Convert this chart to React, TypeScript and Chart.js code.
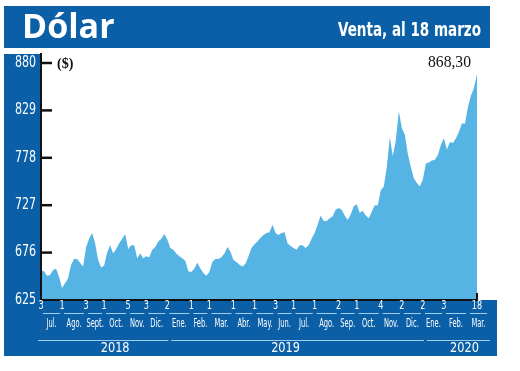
import React, { useEffect, useRef } from "react";
import { Chart, registerables } from "chart.js";

Chart.register(...registerables);

// Dólar observado, venta (daily series resampled by eye), 3 Jul 2018 – 18 Mar 2020
const values: number[] = [
  657, 656, 651, 652, 657, 659, 650, 638, 643, 648,
  663, 669, 669, 665, 661, 682, 691, 697, 686, 668,
  660, 662, 676, 684, 675, 680, 686, 691, 696, 680,
  684, 684, 670, 675, 670, 672, 671, 679, 682, 688,
  691, 696, 690, 681, 679, 675, 672, 670, 667, 656,
  655, 659, 665, 659, 654, 651, 655, 666, 669, 669,
  671, 675, 682, 677, 668, 666, 663, 661, 664, 672,
  681, 685, 688, 692, 695, 697, 698, 706, 697, 695,
  697, 698, 686, 683, 681, 679, 684, 684, 681, 684,
  691, 697, 706, 716, 710, 710, 713, 715, 722, 724,
  722, 716, 711, 717, 726, 728, 719, 721, 716, 713,
  720, 727, 727, 743, 747, 768, 800, 780, 797, 828,
  810, 803, 782, 768, 756, 751, 747, 755, 772, 773,
  775, 776, 781, 792, 799, 787, 795, 794, 799, 806,
  815, 815, 833, 845, 853, 868.3,
];

const yTicks = [625, 676, 727, 778, 829, 880];

const monthNames = [
  "Jul.", "Ago.", "Sept.", "Oct.", "Nov.", "Dic.",
  "Ene.", "Feb.", "Mar.", "Abr.", "May.", "Jun.", "Jul.", "Ago.", "Sep.", "Oct.", "Nov.", "Dic.",
  "Ene.", "Feb.", "Mar.",
];
const monthStartIdx = [0, 7, 15, 21, 29, 35, 42, 50, 56, 64, 71, 78, 84, 91, 99, 105, 113, 120, 127, 134, 142];
const monthLastEnd = 149;

const dayLabels = ["3", "1", "3", "1", "5", "3", "2", "1", "1", "1", "1", "3", "1", "1", "2", "1", "4", "2", "2", "3", "18"];
const dayLabelIdx = [0, 7, 15, 21, 29, 35, 42, 50, 56, 64, 71, 78, 84, 91, 99, 105, 113, 120, 127, 134, 145];

const years = ["2018", "2019", "2020"];
const yearStartIdx = [0, 42, 127];

const titleText = "Dólar";
const subtitleText = "Venta, al 18 marzo";
const unitText = "($)";
const lastValueText = "868,30";

const BLUE = "#0a5fa7";
const FILL = "#56b4e4";
const LINE_LIGHT = "#9fcdee";
const NARROW = "'Liberation Sans Narrow', 'DejaVu Sans Condensed', 'Arial Narrow', sans-serif";
const SERIF = "'Liberation Serif', 'DejaVu Serif', serif";

function condensedText(
  ctx: CanvasRenderingContext2D,
  text: string,
  x: number,
  y: number,
  font: string,
  sx: number,
  align: CanvasTextAlign = "center"
) {
  ctx.save();
  ctx.font = font;
  ctx.textAlign = align;
  ctx.textBaseline = "middle";
  ctx.translate(x, y);
  ctx.scale(sx, 1);
  ctx.fillText(text, 0, 0);
  ctx.restore();
}

const decorPlugin = {
  id: "decor",
  beforeDraw(chart: any) {
    const ctx: CanvasRenderingContext2D = chart.ctx;
    ctx.save();
    ctx.fillStyle = BLUE;
    ctx.fillRect(4, 6, 486, 42);
    ctx.fillRect(4, 54, 36, 302);
    ctx.fillRect(4, 300, 493, 56);
    ctx.restore();
  },
  afterDraw(chart: any) {
    const ctx: CanvasRenderingContext2D = chart.ctx;
    const xs = chart.scales.x;
    const ys = chart.scales.y;
    const ca = chart.chartArea;
    ctx.save();

    // axes
    ctx.strokeStyle = "#111";
    ctx.lineWidth = 2;
    ctx.beginPath();
    ctx.moveTo(ca.left, 53);
    ctx.lineTo(ca.left, ca.bottom);
    ctx.lineTo(ca.right, ca.bottom);
    ctx.stroke();
    ctx.beginPath();
    ctx.moveTo(ca.right, ca.bottom - 7);
    ctx.lineTo(ca.right, ca.bottom);
    ctx.stroke();

    // inward tick marks and y labels
    ctx.lineWidth = 2.5;
    ctx.fillStyle = "#fff";
    for (const t of yTicks) {
      const py = ys.getPixelForValue(t);
      if (t !== yTicks[0]) {
        ctx.beginPath();
        ctx.moveTo(ca.left, py);
        ctx.lineTo(ca.left + 11, py);
        ctx.stroke();
      }
      condensedText(ctx, String(t), ca.left - 5, py, `15px ${NARROW}`, 0.82, "right");
    }

    // unit and last value
    ctx.fillStyle = "#111";
    ctx.textBaseline = "middle";
    ctx.textAlign = "left";
    ctx.font = `bold 14px ${SERIF}`;
    ctx.fillText(unitText, 57, ys.getPixelForValue(880) + 1);
    ctx.textAlign = "right";
    ctx.font = `17px ${SERIF}`;
    ctx.fillText(lastValueText, 471, ys.getPixelForValue(880), 43);

    // header
    ctx.fillStyle = "#fff";
    ctx.textBaseline = "alphabetic";
    ctx.textAlign = "left";
    ctx.font = `bold 34px 'Open Sans', 'DejaVu Sans', sans-serif`;
    ctx.fillText(titleText, 22, 38);
    ctx.textAlign = "right";
    ctx.font = `bold 19px ${NARROW}`;
    ctx.fillText(subtitleText, 481, 36, 143);

    // bottom band: day numbers
    ctx.fillStyle = "#fff";
    for (let i = 0; i < dayLabels.length; i++) {
      condensedText(ctx, dayLabels[i], xs.getPixelForValue(dayLabelIdx[i]), 306, `12px ${NARROW}`, 0.75);
    }

    // month underlines and names
    ctx.strokeStyle = LINE_LIGHT;
    ctx.lineWidth = 1;
    for (let i = 0; i < monthNames.length; i++) {
      const a = xs.getPixelForValue(monthStartIdx[i]);
      const b = xs.getPixelForValue(i + 1 < monthStartIdx.length ? monthStartIdx[i + 1] : monthLastEnd);
      ctx.beginPath();
      ctx.moveTo(a + 2, 313.5);
      ctx.lineTo(b - 2, 313.5);
      ctx.stroke();
      condensedText(ctx, monthNames[i], (a + b) / 2, 324, `12px ${NARROW}`, 0.62);
    }

    // year underlines and labels
    for (let i = 0; i < years.length; i++) {
      const a = xs.getPixelForValue(yearStartIdx[i]);
      const b = xs.getPixelForValue(i + 1 < yearStartIdx.length ? yearStartIdx[i + 1] : monthLastEnd);
      const x0 = i === 0 ? a - 3 : a + 4;
      const x1 = b + 1;
      ctx.beginPath();
      ctx.moveTo(x0, 340.5);
      ctx.lineTo(x1, 340.5);
      ctx.stroke();
      condensedText(ctx, years[i], (x0 + x1) / 2 + (i === 0 ? 12 : i === 1 ? -12 : 6), 348, `14px ${NARROW}`, 0.9);
    }

    ctx.restore();
  },
};

export default function App() {
  const canvasRef = useRef<HTMLCanvasElement | null>(null);

  useEffect(() => {
    const canvas = canvasRef.current;
    if (!canvas) return;
    const chart = new Chart(canvas, {
      type: "line",
      data: {
        labels: values.map((_, i) => String(i)),
        datasets: [
          {
            data: values,
            fill: "start",
            backgroundColor: FILL,
            borderColor: FILL,
            borderWidth: 0,
            pointRadius: 0,
            tension: 0,
          },
        ],
      },
      options: {
        animation: false,
        responsive: false,
        events: [],
        layout: { padding: { left: 0, right: 43, top: 63, bottom: 71 } },
        plugins: {
          legend: { display: false },
          tooltip: { enabled: false },
          title: { display: false },
        },
        scales: {
          x: {
            type: "category",
            display: true,
            grid: { display: false },
            border: { display: false },
            ticks: { display: false },
            afterFit: (s: any) => {
              s.height = 0;
            },
          },
          y: {
            min: 625,
            max: 880,
            grid: { display: false, drawTicks: false },
            border: { display: false },
            ticks: { stepSize: 51, display: false },
            afterFit: (s: any) => {
              s.width = 41;
            },
          },
        },
      },
      plugins: [decorPlugin],
    } as any);
    return () => chart.destroy();
  }, []);

  return (
    <div style={{ position: "fixed", left: 0, top: 0, width: 520, height: 371, background: "#fff" }}>
      <canvas ref={canvasRef} width={520} height={371} style={{ width: 520, height: 371, display: "block" }} />
    </div>
  );
}
